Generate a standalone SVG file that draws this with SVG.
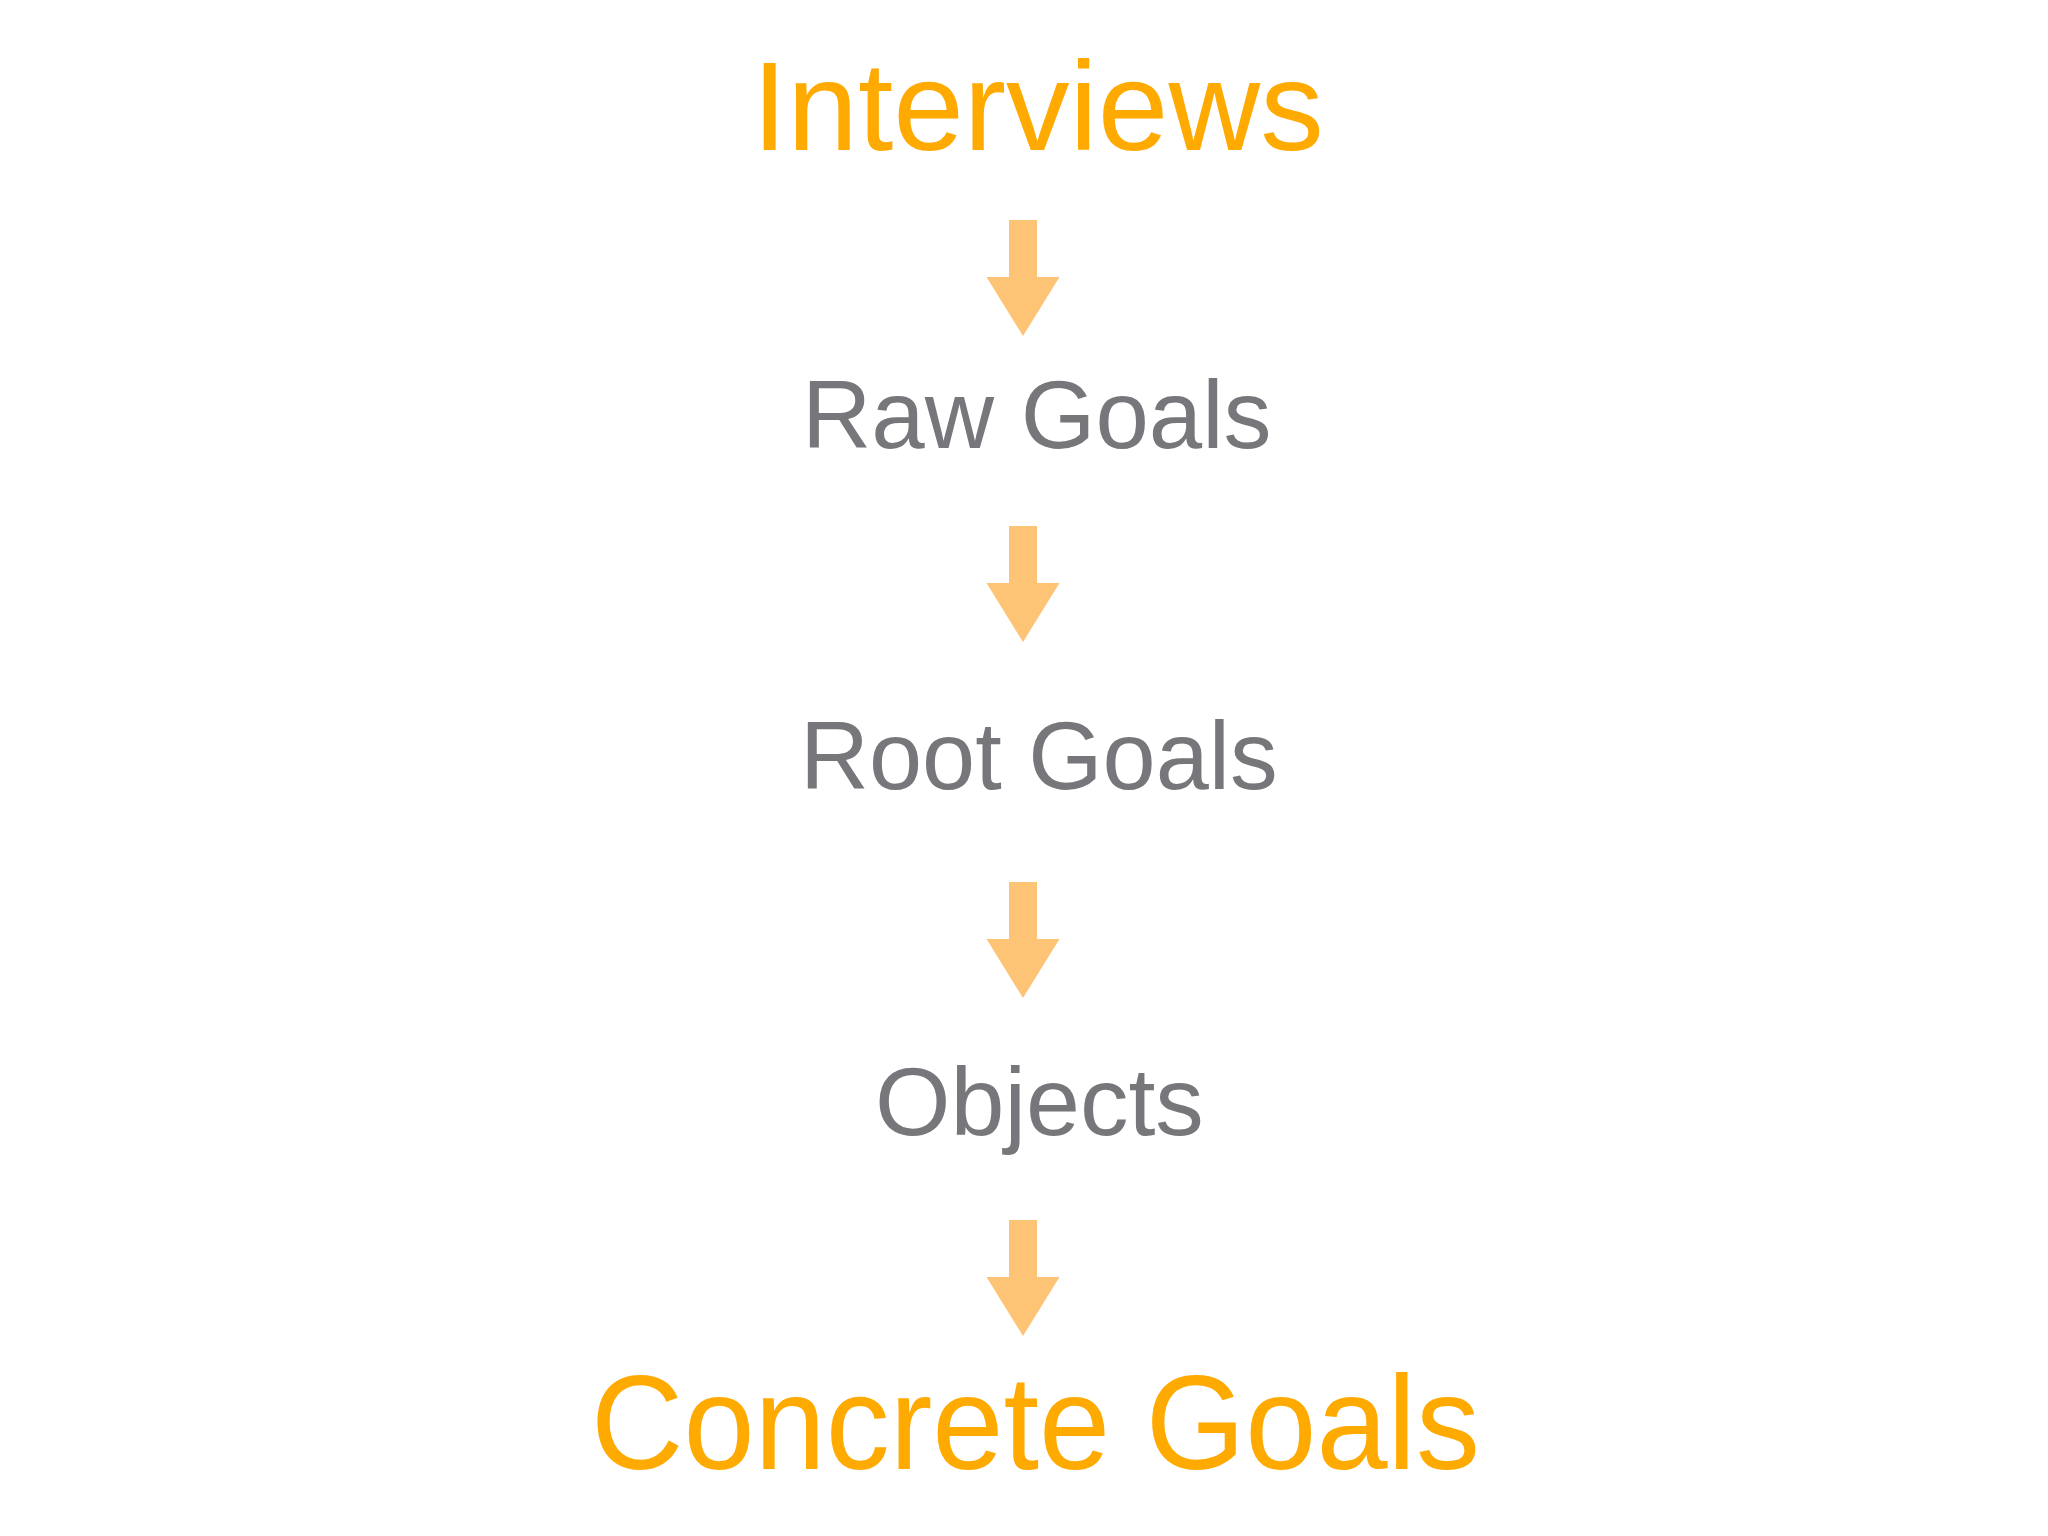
<svg xmlns="http://www.w3.org/2000/svg" xmlns:xlink="http://www.w3.org/1999/xlink" width="2048" height="1536" viewBox="0 0 2048 1536">
  <style>
    .lbl { font-family: "Liberation Sans", Arial, Helvetica, sans-serif; }
    .hi { fill: #FFAA00; }
    .mid { fill: #77767A; }
    .arrow { fill: #FEC475; }
  </style>
  <defs>
    <path id="down" class="arrow" d="M-14,0 H14 V57 H36.5 L0,116 L-36.5,57 H-14 Z"/>
  </defs>
  <rect width="2048" height="1536" fill="#FFFFFF"/>
  <g id="connectors">
    <use xlink:href="#down" x="1023" y="220"/>
    <use xlink:href="#down" x="1023" y="526"/>
    <use xlink:href="#down" x="1023" y="882"/>
    <use xlink:href="#down" x="1023" y="1220"/>
  </g>
  <g id="interviews">
    <text class="lbl hi" x="752" y="150" font-size="127">Interviews</text>
  </g>
  <g id="raw-goals">
    <text class="lbl mid" x="802" y="448" font-size="96">Raw Goals</text>
  </g>
  <g id="root-goals">
    <text class="lbl mid" x="800" y="789" font-size="95.5">Root Goals</text>
  </g>
  <g id="objects">
    <text class="lbl mid" x="875" y="1135" font-size="97">Objects</text>
  </g>
  <g id="concrete-goals">
    <text class="lbl hi" x="591" y="1469" font-size="133" textLength="889" lengthAdjust="spacingAndGlyphs">Concrete Goals</text>
  </g>
</svg>
